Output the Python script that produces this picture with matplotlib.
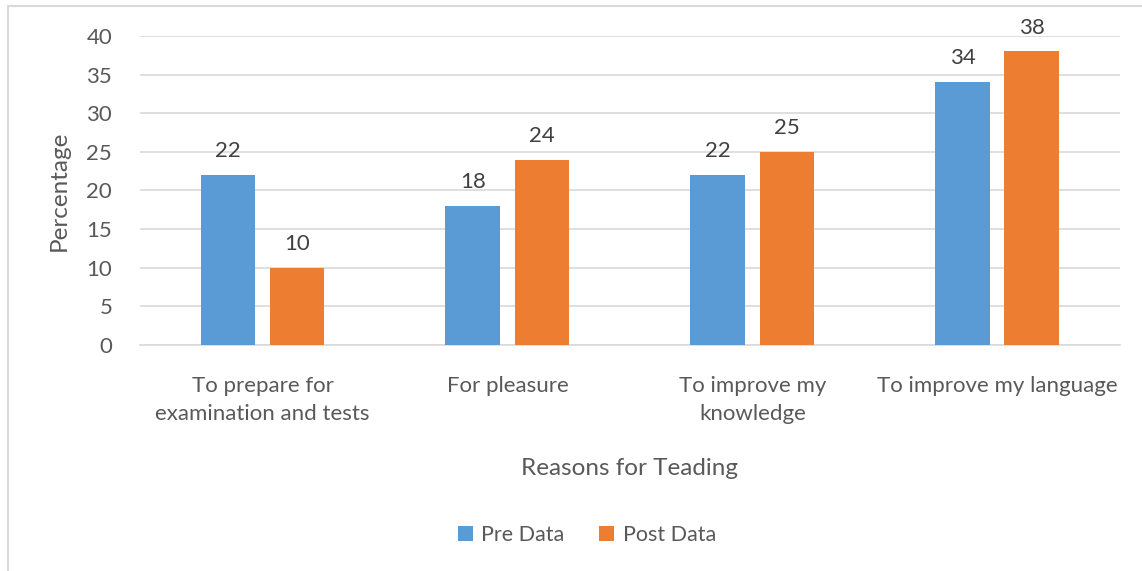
import matplotlib.pyplot as plt
from matplotlib.patches import Rectangle
import numpy as np

categories = ["To prepare for\nexamination and tests", "For pleasure",
              "To improve my\nknowledge", "To improve my language"]
pre_data = [22, 18, 22, 34]
post_data = [10, 24, 25, 38]
yticks = [0, 5, 10, 15, 20, 25, 30, 35, 40]

text_color = "#595959"
grid_color = "#d9d9d9"
blue = "#5b9bd5"
orange = "#ed7d31"

plt.rcParams["font.family"] = ["Lato", "DejaVu Sans"]

fig = plt.figure(figsize=(11.42, 5.71), dpi=100)
ax = fig.add_axes([0.1226, 0.3958, 0.858, 0.5412])

x = np.arange(len(categories))
w = 0.224
b1 = ax.bar(x - 0.141, pre_data, w, color=blue, label="Pre Data", zorder=3)
b2 = ax.bar(x + 0.141, post_data, w, color=orange, label="Post Data", zorder=3)

for bars in (b1, b2):
    for r in bars:
        ax.annotate(f"{r.get_height():g}", (r.get_x() + r.get_width() / 2, r.get_height()),
                    xytext=(0, 10), textcoords="offset points", ha="center", va="bottom",
                    fontsize=16, color="#404040")

ax.set_xlim(-0.5, 3.5)
ax.set_ylim(0, 40)
ax.set_yticks(yticks)
ax.yaxis.grid(True, color=grid_color, linewidth=1.2, zorder=0)
ax.set_xticks(x)
ax.set_xticklabels(categories, fontsize=16, color=text_color, linespacing=1.55)
ax.tick_params(axis="y", labelsize=16, labelcolor=text_color, length=0, pad=20)
ax.tick_params(axis="x", length=0, pad=22)
for s in ["top", "right", "left"]:
    ax.spines[s].set_visible(False)
ax.spines["bottom"].set_color(grid_color)
ax.spines["bottom"].set_linewidth(1.2)

ax.set_ylabel("Percentage", fontsize=17.5, color=text_color, labelpad=12)
ax.set_xlabel("Reasons for Teading", fontsize=17.5, color=text_color, labelpad=24)

ax.legend(loc="center", bbox_to_anchor=(0.456, -0.615), ncol=2, frameon=False,
          fontsize=15.5, labelcolor=text_color, handlelength=0.7, handleheight=0.7,
          columnspacing=1.6, handletextpad=0.4)

fig.patches.append(Rectangle((8 / 1142, -0.1), 1.2, 1 - 6 / 571 + 0.1, transform=fig.transFigure,
                             fill=False, edgecolor=grid_color, linewidth=1.5))

fig.savefig("out.png", dpi=100)
